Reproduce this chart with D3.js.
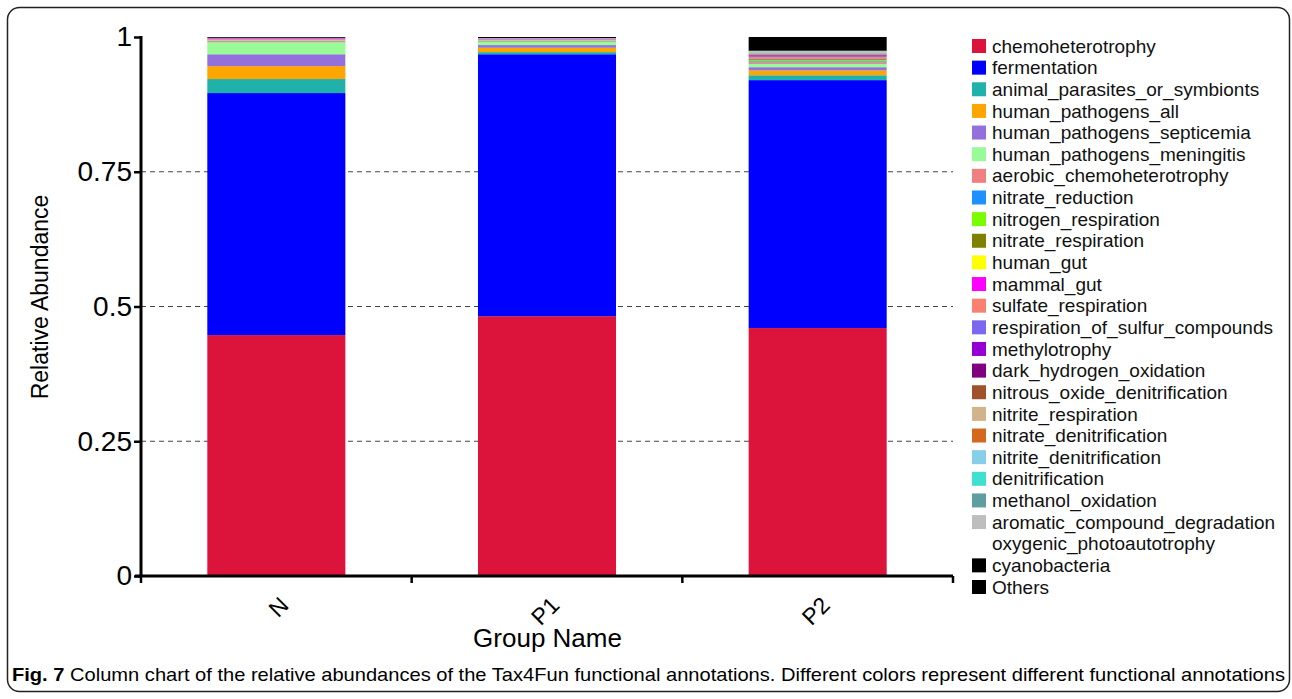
<!DOCTYPE html>
<html>
<head>
<meta charset="utf-8">
<script src="https://cdn.jsdelivr.net/npm/d3@7"></script>
<style>
  body { margin: 0; background: #fff; }
  svg { display: block; font-family: "Liberation Sans", Arial, sans-serif; }
</style>
</head>
<body>
<div id="chart"></div>
<script>
// groups on the x axis
const groups = ["N", "P1", "P2"];

// functional annotations, bottom of the stack first
const functions = [
  "chemoheterotrophy", "fermentation", "animal_parasites_or_symbionts",
  "human_pathogens_all", "human_pathogens_septicemia", "human_pathogens_meningitis",
  "aerobic_chemoheterotrophy", "nitrate_reduction", "nitrogen_respiration",
  "nitrate_respiration", "human_gut", "mammal_gut", "sulfate_respiration",
  "respiration_of_sulfur_compounds", "methylotrophy", "dark_hydrogen_oxidation",
  "nitrous_oxide_denitrification", "nitrite_respiration", "nitrate_denitrification",
  "nitrite_denitrification", "denitrification", "methanol_oxidation",
  "aromatic_compound_degradation", "oxygenic_photoautotrophy", "cyanobacteria", "Others"
];

const colors = [
  "#DC143C", "#0000FF", "#20B2AA", "#FFA500", "#9370DB", "#98FB98",
  "#F08080", "#1E90FF", "#7CFC00", "#808000", "#FFFF00", "#FF00FF", "#FA8072",
  "#7B68EE", "#9400D3", "#800080", "#A0522D", "#D2B48C", "#D2691E",
  "#87CEEB", "#40E0D0", "#5F9EA0", "#BEBEBE", "#FFFFFF", "#000000", "#000000"
];

// relative abundance per group, same order as functions
const valuesN = [
  0.447, 0.449, 0.026, 0.024, 0.022, 0.022,
  0.002, 0.001, 0.0005, 0.0005, 0.001, 0.001, 0.0005,
  0.0005, 0.0005, 0.0005, 0, 0, 0,
  0, 0, 0, 0.0005, 0, 0, 0.0015
];
const valuesP1 = [
  0.482, 0.486, 0.004, 0.008, 0.005, 0.006,
  0.001, 0.001, 0.0005, 0.0005, 0.0005, 0.0005, 0.0005,
  0.0005, 0.0005, 0.0005, 0, 0, 0,
  0, 0, 0, 0.001, 0, 0, 0.002
];
const valuesP2 = [
  0.460, 0.460, 0.009, 0.009, 0.006, 0.006,
  0.003, 0.002, 0.002, 0.002, 0.001, 0.001, 0.002,
  0.002, 0.001, 0.001, 0.001, 0.001, 0.001,
  0.001, 0.001, 0.001, 0.001, 0, 0.001, 0.025
];

const yTicks = [0, 0.25, 0.5, 0.75, 1];
const yTickLabels = ["0", "0.25", "0.5", "0.75", "1"];

const W = 1292, H = 699;
const margin = { left: 141, right: 340, top: 37, bottom: 123 };

const svg = d3.select("#chart").append("svg")
  .attr("width", W)
  .attr("height", H);

// figure frame
svg.append("rect")
  .attr("x", 7.5).attr("y", 7.5)
  .attr("width", 1282).attr("height", 684)
  .attr("rx", 12)
  .attr("fill", "none")
  .attr("stroke", "#222")
  .attr("stroke-width", 1.5);

const x = d3.scaleBand()
  .domain(groups)
  .range([margin.left, W - margin.right + 1])
  .paddingInner(0)
  .paddingOuter(0);

const y = d3.scaleLinear()
  .domain([0, 1])
  .range([H - margin.bottom, margin.top]);

const table = groups.map((g, i) => {
  const vals = [valuesN, valuesP1, valuesP2][i];
  const row = { group: g };
  functions.forEach((f, j) => row[f] = vals[j]);
  return row;
});

const series = d3.stack().keys(functions)(table);
const color = d3.scaleOrdinal().domain(functions).range(colors);

// dashed grid
svg.append("g")
  .selectAll("line")
  .data(yTicks.filter(t => t > 0 && t < 1))
  .enter().append("line")
  .attr("x1", margin.left)
  .attr("x2", W - margin.right + 1)
  .attr("y1", d => y(d))
  .attr("y2", d => y(d))
  .attr("stroke", "#444")
  .attr("stroke-width", 1)
  .attr("stroke-dasharray", "5,4");

const barW = x.bandwidth() * 0.51;

svg.append("g")
  .selectAll("g")
  .data(series)
  .enter().append("g")
  .attr("fill", d => color(d.key))
  .selectAll("rect")
  .data(d => d)
  .enter().append("rect")
  .attr("x", d => x(d.data.group) + (x.bandwidth() - barW) / 2)
  .attr("width", barW)
  .attr("y", d => y(d[1]))
  .attr("height", d => Math.max(0, y(d[0]) - y(d[1])));

// y axis
const yAxis = d3.axisLeft(y)
  .tickValues(yTicks)
  .tickFormat((d, i) => yTickLabels[i])
  .tickSize(7)
  .tickPadding(2);

const yG = svg.append("g")
  .attr("transform", "translate(" + margin.left + ",0)")
  .call(yAxis);
yG.select(".domain").attr("stroke-width", 3).attr("d", "M0," + (y(1) - 1) + "V" + (y(0) + 1));
yG.selectAll(".tick line").attr("stroke-width", 2.5);
yG.selectAll(".tick text")
  .attr("font-size", 28)
  .attr("fill", "#000")
  .attr("font-family", "Liberation Sans, Arial, sans-serif");

// x axis
const xAxis = d3.axisBottom(x)
  .tickSize(0)
  .tickFormat("");

const xG = svg.append("g")
  .attr("transform", "translate(0," + y(0) + ")")
  .call(xAxis);
xG.select(".domain").attr("stroke-width", 3).attr("d", "M" + (margin.left - 6) + ",0H" + (W - margin.right + 1));

// boundary ticks between groups
const boundaries = groups.map(g => x(g)).concat([x(groups[groups.length - 1]) + x.bandwidth()]);
xG.selectAll(".bnd")
  .data(boundaries)
  .enter().append("line")
  .attr("class", "bnd")
  .attr("x1", d => d).attr("x2", d => d)
  .attr("y1", 0).attr("y2", 7)
  .attr("stroke", "#000")
  .attr("stroke-width", 2.5);

xG.selectAll(".lbl")
  .data(groups)
  .enter().append("text")
  .attr("class", "lbl")
  .attr("transform", d => "translate(" + (x(d) + x.bandwidth() / 2 + 8) + ",25) rotate(-45)")
  .attr("text-anchor", "end")
  .attr("dy", "0.35em")
  .attr("font-size", 23)
  .attr("fill", "#000")
  .text(d => d);

// axis titles
svg.append("text")
  .attr("x", (margin.left + W - margin.right) / 2 + 1)
  .attr("y", 647)
  .attr("text-anchor", "middle")
  .attr("font-size", 26)
  .text("Group Name");

svg.append("text")
  .attr("transform", "translate(48,297) rotate(-90)")
  .attr("text-anchor", "middle")
  .attr("font-size", 23)
  .text("Relative Abundance");

// legend
const legend = svg.append("g")
  .attr("transform", "translate(972,46)");

const item = legend.selectAll("g")
  .data(functions)
  .enter().append("g")
  .attr("transform", (d, i) => "translate(0," + (i * 21.64) + ")");

item.append("rect")
  .attr("x", 0).attr("y", -7)
  .attr("width", 14).attr("height", 14)
  .attr("fill", d => color(d));

item.append("text")
  .attr("x", 20)
  .attr("dy", "0.35em")
  .attr("font-size", 19)
  .attr("fill", "#111")
  .text(d => d);

// caption
const cap = svg.append("text")
  .attr("x", 12)
  .attr("y", 681)
  .attr("font-size", 19)
  .attr("font-family", "Liberation Sans Narrow, Liberation Sans, sans-serif")
  .attr("textLength", 1273)
  .attr("lengthAdjust", "spacingAndGlyphs");
cap.append("tspan").attr("font-weight", "bold").text("Fig. 7");
cap.append("tspan").text(" Column chart of the relative abundances of the Tax4Fun functional annotations. Different colors represent different functional annotations");
</script>
</body>
</html>
